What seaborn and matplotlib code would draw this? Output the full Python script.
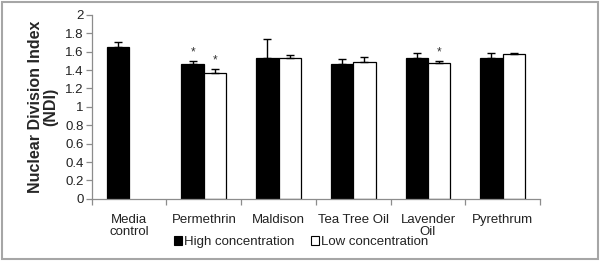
import matplotlib
matplotlib.use("Agg")
import matplotlib.pyplot as plt
import seaborn as sns
import pandas as pd
import numpy as np
from matplotlib.patches import Rectangle

# values
categories = ["Media\ncontrol", "Permethrin", "Maldison", "Tea Tree Oil", "Lavender\nOil", "Pyrethrum"]
high_mean = [1.655, 1.465, 1.53, 1.467, 1.536, 1.53]
high_err = [0.055, 0.03, 0.205, 0.05, 0.045, 0.06]
low_mean = [np.nan, 1.367, 1.53, 1.49, 1.475, 1.573]
low_err = [np.nan, 0.045, 0.03, 0.05, 0.022, 0.017]
high_star = [False, True, False, False, False, False]
low_star = [False, True, False, False, True, False]
series = ["High concentration", "Low concentration"]

rows = []
for i, c in enumerate(categories):
    rows.append({"cat": c, "conc": series[0], "ndi": high_mean[i], "err": high_err[i], "star": high_star[i]})
    if not np.isnan(low_mean[i]):
        rows.append({"cat": c, "conc": series[1], "ndi": low_mean[i], "err": low_err[i], "star": low_star[i]})
df = pd.DataFrame(rows)

sns.set_theme(style="white")
plt.rcParams['font.family'] = ['Liberation Sans', 'DejaVu Sans']
grey = "#8c8c8c"

fig = plt.figure(figsize=(6, 2.61), dpi=100)
ax = fig.add_axes([0.153, 0.238, 0.747, 0.705])

sns.barplot(data=df, x="cat", y="ndi", hue="conc", order=categories, hue_order=series,
            palette={series[0]: "black", series[1]: "white"}, edgecolor="black",
            linewidth=0.9, width=0.6, ax=ax, errorbar=None)

# upward-only error bars and significance stars
for cont, s in zip(ax.containers, series):
    sub = df[df["conc"] == s].set_index("cat").reindex(categories).dropna(subset=["ndi"])
    for bar, (_, r) in zip(cont, sub.iterrows()):
        xc = bar.get_x() + bar.get_width() / 2
        ax.errorbar(xc, r["ndi"], yerr=[[0], [r["err"]]], fmt="none", ecolor="black",
                    elinewidth=1, capsize=3, capthick=1)
        if r["star"]:
            ax.text(xc, r["ndi"] + r["err"] + 0.03, "*", ha="center", va="bottom", fontsize=8.5,
                    color="#333333")

ax.set_ylim(0, 2)
ax.set_yticks(np.arange(0, 2.01, 0.2))
ax.set_yticklabels(["0", "0.2", "0.4", "0.6", "0.8", "1", "1.2", "1.4", "1.6", "1.8", "2"])
ax.set_xlim(-0.5, len(categories) - 0.5)
ax.set_xlabel("")
ax.set_ylabel("Nuclear Division Index\n(NDI)", fontsize=11.5, fontweight="bold", labelpad=5,
              linespacing=1.0)

for sp in ["top", "right"]:
    ax.spines[sp].set_visible(False)
for sp in ["left", "bottom"]:
    ax.spines[sp].set_color(grey)
    ax.spines[sp].set_linewidth(0.9)

ax.tick_params(axis="y", which="major", left=True, length=4, color=grey, width=0.9,
               labelsize=9.5, pad=2, labelcolor="#222222")
ax.tick_params(axis="x", which="major", bottom=False, labelsize=9.5, pad=5, labelcolor="#222222")
ax.set_xticks(np.arange(-0.5, len(categories)), minor=True)
ax.tick_params(axis="x", which="minor", bottom=True, length=4, color=grey, width=0.9)
for lab in ax.get_xticklabels():
    lab.set_linespacing(0.95)

ax.get_legend().remove()
handles = [Rectangle((0, 0), 1, 1, facecolor="black", edgecolor="black", linewidth=0.8),
           Rectangle((0, 0), 1, 1, facecolor="white", edgecolor="black", linewidth=0.8)]
fig.legend(handles, series, loc="center", bbox_to_anchor=(0.502, 0.072), ncol=2, frameon=False,
           fontsize=9.5, handlelength=0.6, handleheight=0.6, handletextpad=0.2, columnspacing=1.2,
           labelcolor="#222222")

# grey frame around the whole picture
fig.patches.append(Rectangle((0.004, 0.008), 0.992, 0.984, transform=fig.transFigure,
                             fill=False, edgecolor="#a6a6a6", linewidth=1.5))

fig.savefig("out.png", dpi=100)
